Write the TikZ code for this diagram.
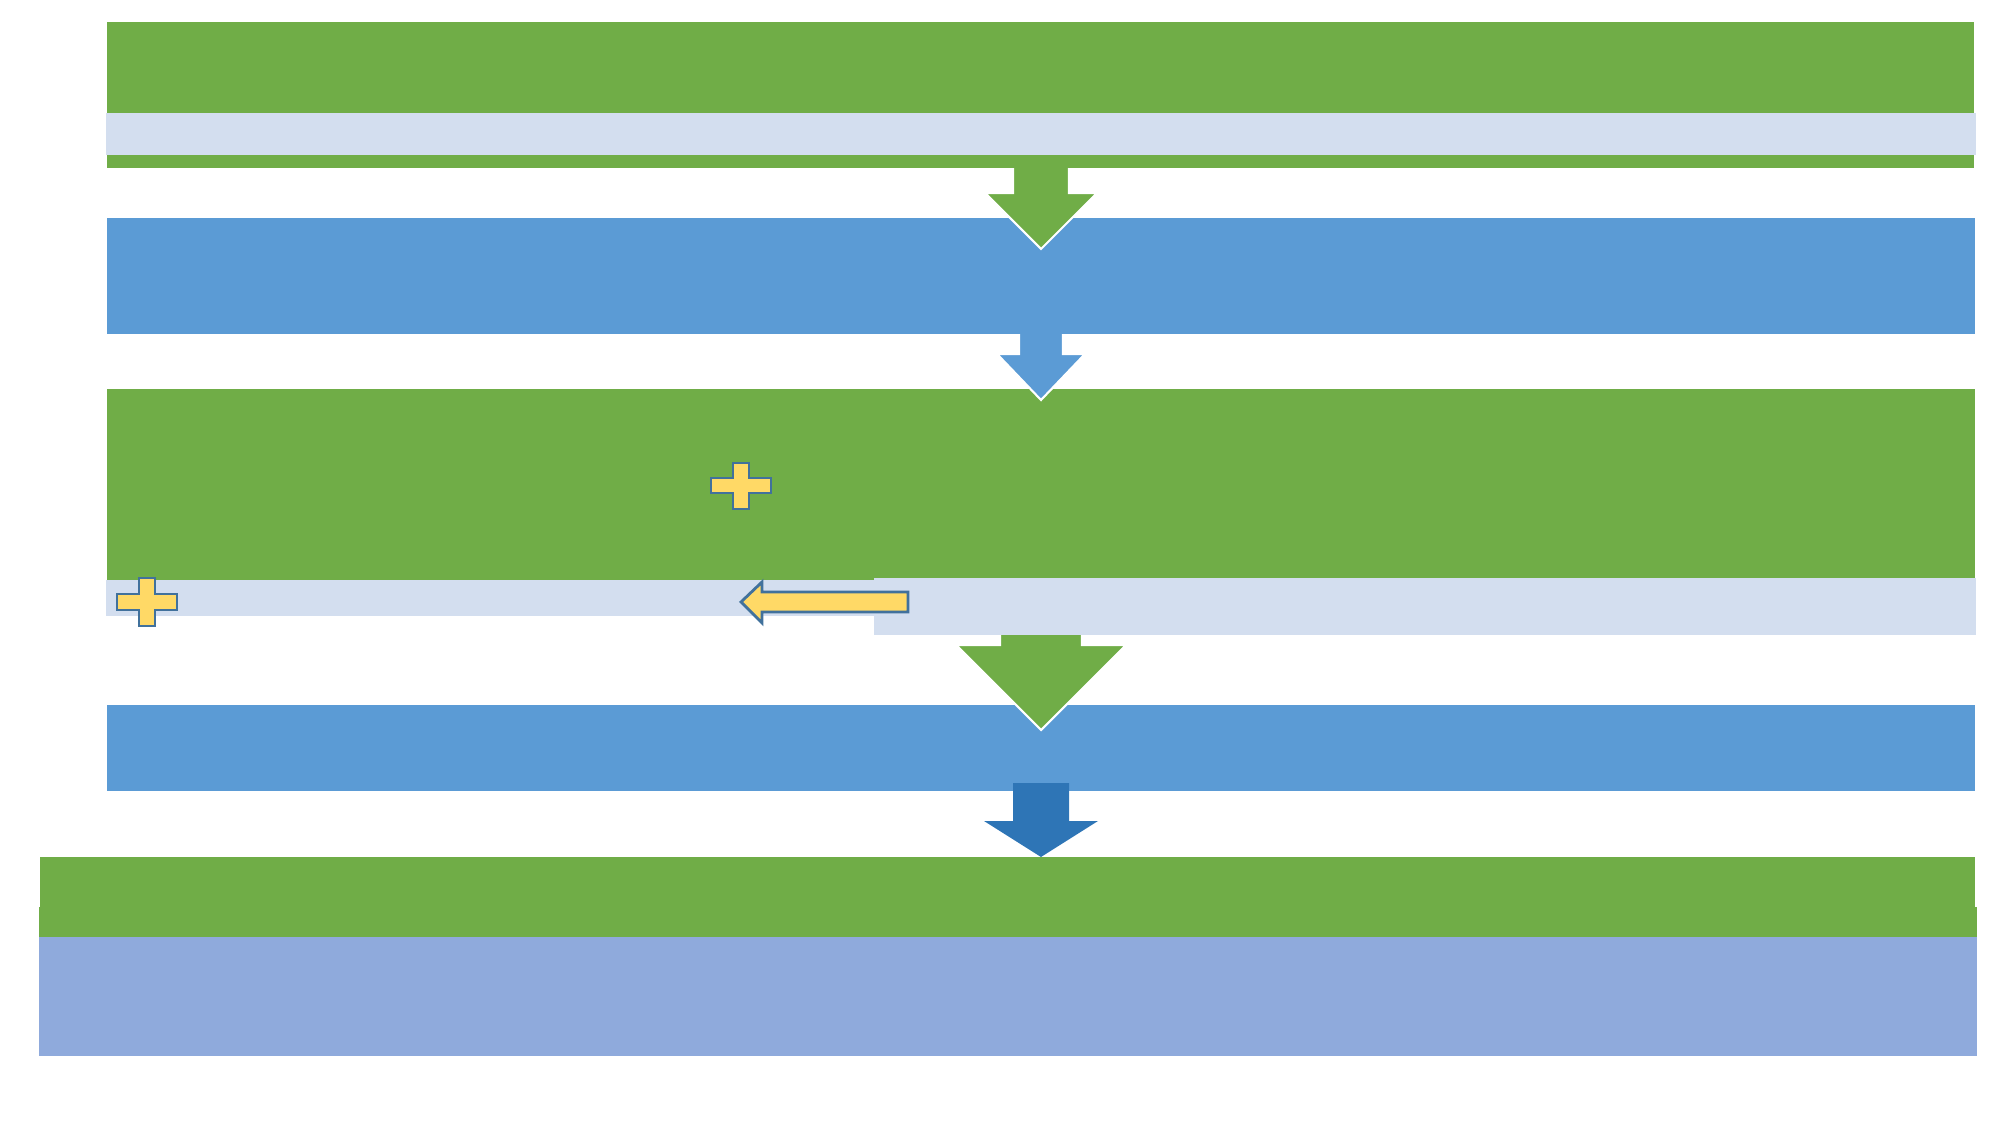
\documentclass[tikz,border=0pt]{standalone}
\definecolor{bandgreen}{HTML}{70AD47}
\definecolor{bandblue}{HTML}{5B9BD5}
\definecolor{bandlight}{HTML}{D3DEEF}
\definecolor{bandlav}{HTML}{8FAADC}
\definecolor{darkblue}{HTML}{2E75B6}
\definecolor{plusyellow}{HTML}{FFD966}
\definecolor{plusedge}{HTML}{41719C}
\begin{document}
\begin{tikzpicture}[x=0.01cm,y=-0.01cm,
  band/.style={draw=none},
  blockarrow/.style={draw=white,line width=0.6pt,line join=miter},
  yellowshape/.style={fill=plusyellow,draw=plusedge,line width=0.8pt}]
\useasboundingbox (0,0) rectangle (2000,1125);
% bottom bands
\fill[bandgreen] (39,907) rectangle (1977,937);
\fill[bandgreen] (40,857) rectangle (1975,937);
\fill[bandlav] (39,937) rectangle (1977,1056);
% blue band 3
\fill[bandblue] (107,705) rectangle (1975,791);
% arrow 4
\fill[darkblue] (1013,783) -- (1069,783) -- (1069,821) -- (1098,821) -- (1041,857) -- (984,821) -- (1013,821) -- cycle;
% arrow 3
\filldraw[blockarrow,fill=bandgreen] (1000,630) -- (1082,630) -- (1082,645) -- (1126,645) -- (1041,730) -- (956,645) -- (1000,645) -- cycle;
% green band 2 and light bands
\fill[bandgreen] (107,389) rectangle (1975,580);
\fill[bandlight] (106,580) rectangle (874,616);
\fill[bandlight] (874,578) rectangle (1976,635);
% plus shapes
\filldraw[yellowshape] (733,463) -- (749,463) -- (749,478) -- (771,478) -- (771,493) -- (749,493) -- (749,509) -- (733,509) -- (733,493) -- (711,493) -- (711,478) -- (733,478) -- cycle;
\filldraw[yellowshape] (139,578) -- (155,578) -- (155,594) -- (177,594) -- (177,610) -- (155,610) -- (155,626) -- (139,626) -- (139,610) -- (117,610) -- (117,594) -- (139,594) -- cycle;
% left arrow
\filldraw[yellowshape] (908,592) -- (762,592) -- (762,582) -- (741,602) -- (762,623) -- (762,612) -- (908,612) -- cycle;
% arrow 2
\filldraw[blockarrow,fill=bandblue] (1019,325) -- (1063,325) -- (1063,354) -- (1085,354) -- (1041,400) -- (997,354) -- (1019,354) -- cycle;
% blue band 1
\fill[bandblue] (107,218) rectangle (1975,334);
% arrow 1
\filldraw[blockarrow,fill=bandgreen] (1013,160) -- (1069,160) -- (1069,193) -- (1097,193) -- (1041,249) -- (985,193) -- (1013,193) -- cycle;
% top bands
\fill[bandgreen] (107,22) rectangle (1974,168);
\fill[bandlight] (106,113) rectangle (1976,155);
\end{tikzpicture}
\end{document}
